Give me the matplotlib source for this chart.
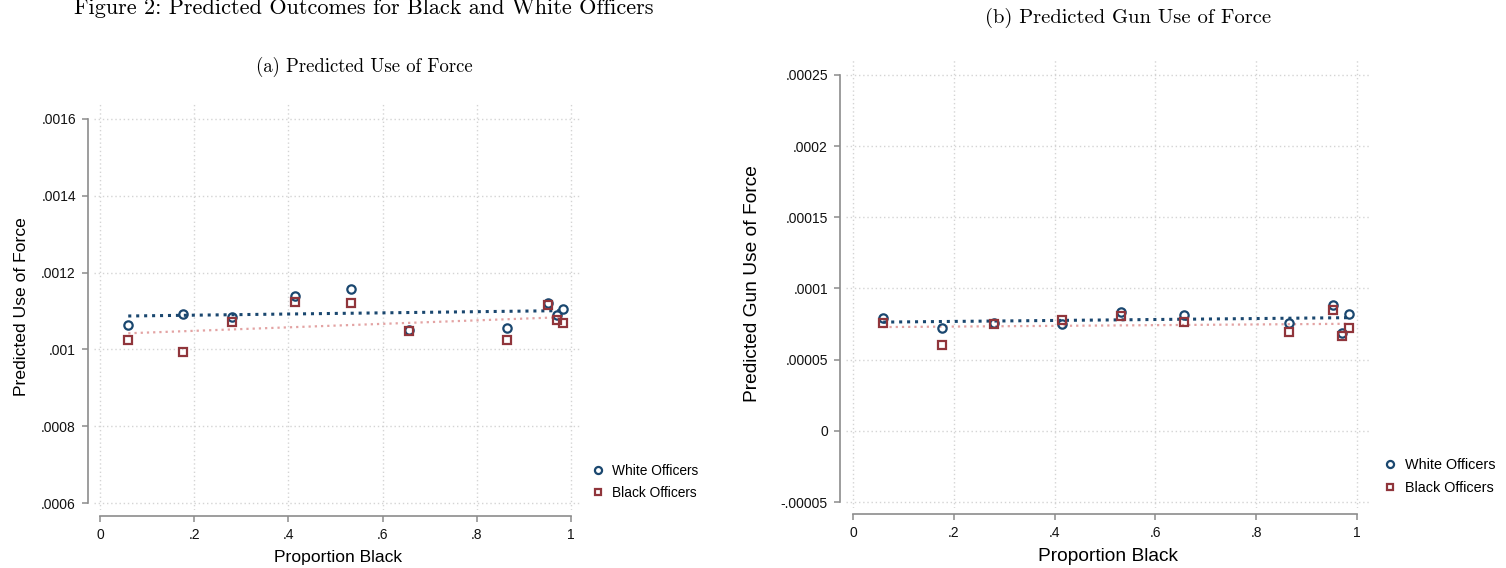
import numpy as np
import matplotlib
matplotlib.use("Agg")
import matplotlib.pyplot as plt

plt.rcParams['font.family'] = ['Liberation Sans', 'DejaVu Sans']
plt.rcParams['axes.formatter.use_mathtext'] = True

# proportion black in each city (same cities in both panels)
prop_black = np.array([0.060, 0.177, 0.280, 0.415, 0.532, 0.656, 0.865, 0.952, 0.971, 0.984])

# (a) predicted use of force
force_white = np.array([0.001064, 0.001091, 0.001085, 0.001139, 0.001158,
                        0.001051, 0.001056, 0.001120, 0.001090, 0.001104])
force_black = np.array([0.001024, 0.000994, 0.001072, 0.001123, 0.001120,
                        0.001048, 0.001024, 0.001115, 0.001077, 0.001068])
force_white_fit = [0.001087, 0.001101]
force_black_fit = [0.001042, 0.001084]

# (b) predicted gun use of force
gun_white = np.array([7.95e-5, 7.19e-5, 7.59e-5, 7.52e-5, 8.37e-5,
                      8.16e-5, 7.59e-5, 8.87e-5, 6.89e-5, 8.21e-5])
gun_black = np.array([7.55e-5, 6.04e-5, 7.52e-5, 7.78e-5, 8.07e-5,
                      7.64e-5, 6.96e-5, 8.49e-5, 6.65e-5, 7.19e-5])
gun_white_fit = [7.64e-5, 7.95e-5]
gun_black_fit = [7.29e-5, 7.52e-5]

x_ticks = [0, 0.2, 0.4, 0.6, 0.8, 1]
x_labels = ['0', '.2', '.4', '.6', '.8', '1']
force_ticks = [0.0006, 0.0008, 0.001, 0.0012, 0.0014, 0.0016]
force_labels = ['.0006', '.0008', '.001', '.0012', '.0014', '.0016']
gun_ticks = [-0.00005, 0, 0.00005, 0.0001, 0.00015, 0.0002, 0.00025]
gun_labels = ['-.00005', '0', '.00005', '.0001', '.00015', '.0002', '.00025']

navy = '#1a476f'
maroon = '#90353b'
pink = '#e3a3a3'
axis_gray = '#8c8c8c'
grid_gray = '#d4d4d4'

fig = plt.figure(figsize=(15.06, 5.68), dpi=100)


def draw_panel(ax, yw, yb, fw, fb, yticks, ylabels, ylabel, xlim, ylim, legend_xy,
               tick_size, label_size, legend_size, ypad):
    ends = [prop_black.min(), prop_black.max()]
    ax.plot(ends, fw, color=navy, lw=2.2, linestyle=(0, (1.0, 1.6)), zorder=3)
    ax.plot(ends, fb, color=pink, lw=1.6, linestyle=(0, (1.0, 1.8)), zorder=3)
    ax.plot(prop_black, yw, 'o', ms=6, mfc='none', mec=navy, mew=1.6,
            label='White Officers', zorder=4)
    ax.plot(prop_black, yb, 's', ms=5.6, mfc='none', mec=maroon, mew=1.6,
            label='Black Officers', zorder=4)

    ax.set_xlim(xlim)
    ax.set_ylim(ylim)
    ax.set_xticks(x_ticks)
    ax.set_xticklabels(x_labels, fontsize=tick_size)
    ax.set_yticks(yticks)
    ax.set_yticklabels(ylabels, fontsize=tick_size)
    ax.grid(True, color=grid_gray, linestyle=(0, (1, 2)), lw=1)
    ax.set_axisbelow(True)

    for side in ['top', 'right']:
        ax.spines[side].set_visible(False)
    ax.spines['left'].set_position(('outward', 4))
    ax.spines['bottom'].set_position(('outward', 4))
    ax.spines['left'].set_bounds(yticks[0], yticks[-1])
    ax.spines['bottom'].set_bounds(0, 1)
    for side in ['left', 'bottom']:
        ax.spines[side].set_color(axis_gray)
        ax.spines[side].set_linewidth(1.2)
    ax.tick_params(colors=axis_gray, labelcolor='#111111', length=4, width=1.1, pad=5)

    ax.set_xlabel('Proportion Black', fontsize=label_size, labelpad=6)
    ax.set_ylabel(ylabel, fontsize=label_size, labelpad=ypad)

    ax.legend(loc='upper left', bbox_to_anchor=legend_xy, bbox_transform=fig.transFigure,
              frameon=False, fontsize=legend_size, handlelength=1.0, handletextpad=0.5,
              labelspacing=0.6, borderpad=0, borderaxespad=0, markerscale=0.85)


ax1 = fig.add_axes([94 / 1506, 58 / 568, 488 / 1506, 406 / 568])
draw_panel(ax1, force_white, force_black, force_white_fit, force_black_fit,
           force_ticks, force_labels, 'Predicted Use of Force',
           (-0.0127, 1.0234), (0.000581771, 0.00163906), (591 / 1506, 1 - 464 / 568),
           10, 12.6, 9.9, 9)

ax2 = fig.add_axes([846 / 1506, 60 / 568, 524 / 1506, 448 / 568])
draw_panel(ax2, gun_white, gun_black, gun_white_fit, gun_black_fit,
           gun_ticks, gun_labels, 'Predicted Gun Use of Force',
           (-0.0139, 1.0258), (-0.0000542, 0.0002605), (1383 / 1506, 1 - 458 / 568),
           11, 13.8, 10.4, 14)

fig.text(364 / 1506, 1 - 8 / 568, 'Figure 2: Predicted Outcomes for Black and White Officers',
         fontfamily='cmr10', fontsize=16, ha='center', va='center')
fig.text(364 / 1506, 1 - 67 / 568, '(a) Predicted Use of Force',
         fontfamily='cmr10', fontsize=13.5, ha='center', va='center')
fig.text(1128 / 1506, 1 - 18 / 568, '(b) Predicted Gun Use of Force',
         fontfamily='cmr10', fontsize=14.8, ha='center', va='center')

fig.savefig('out.png', dpi=100)
